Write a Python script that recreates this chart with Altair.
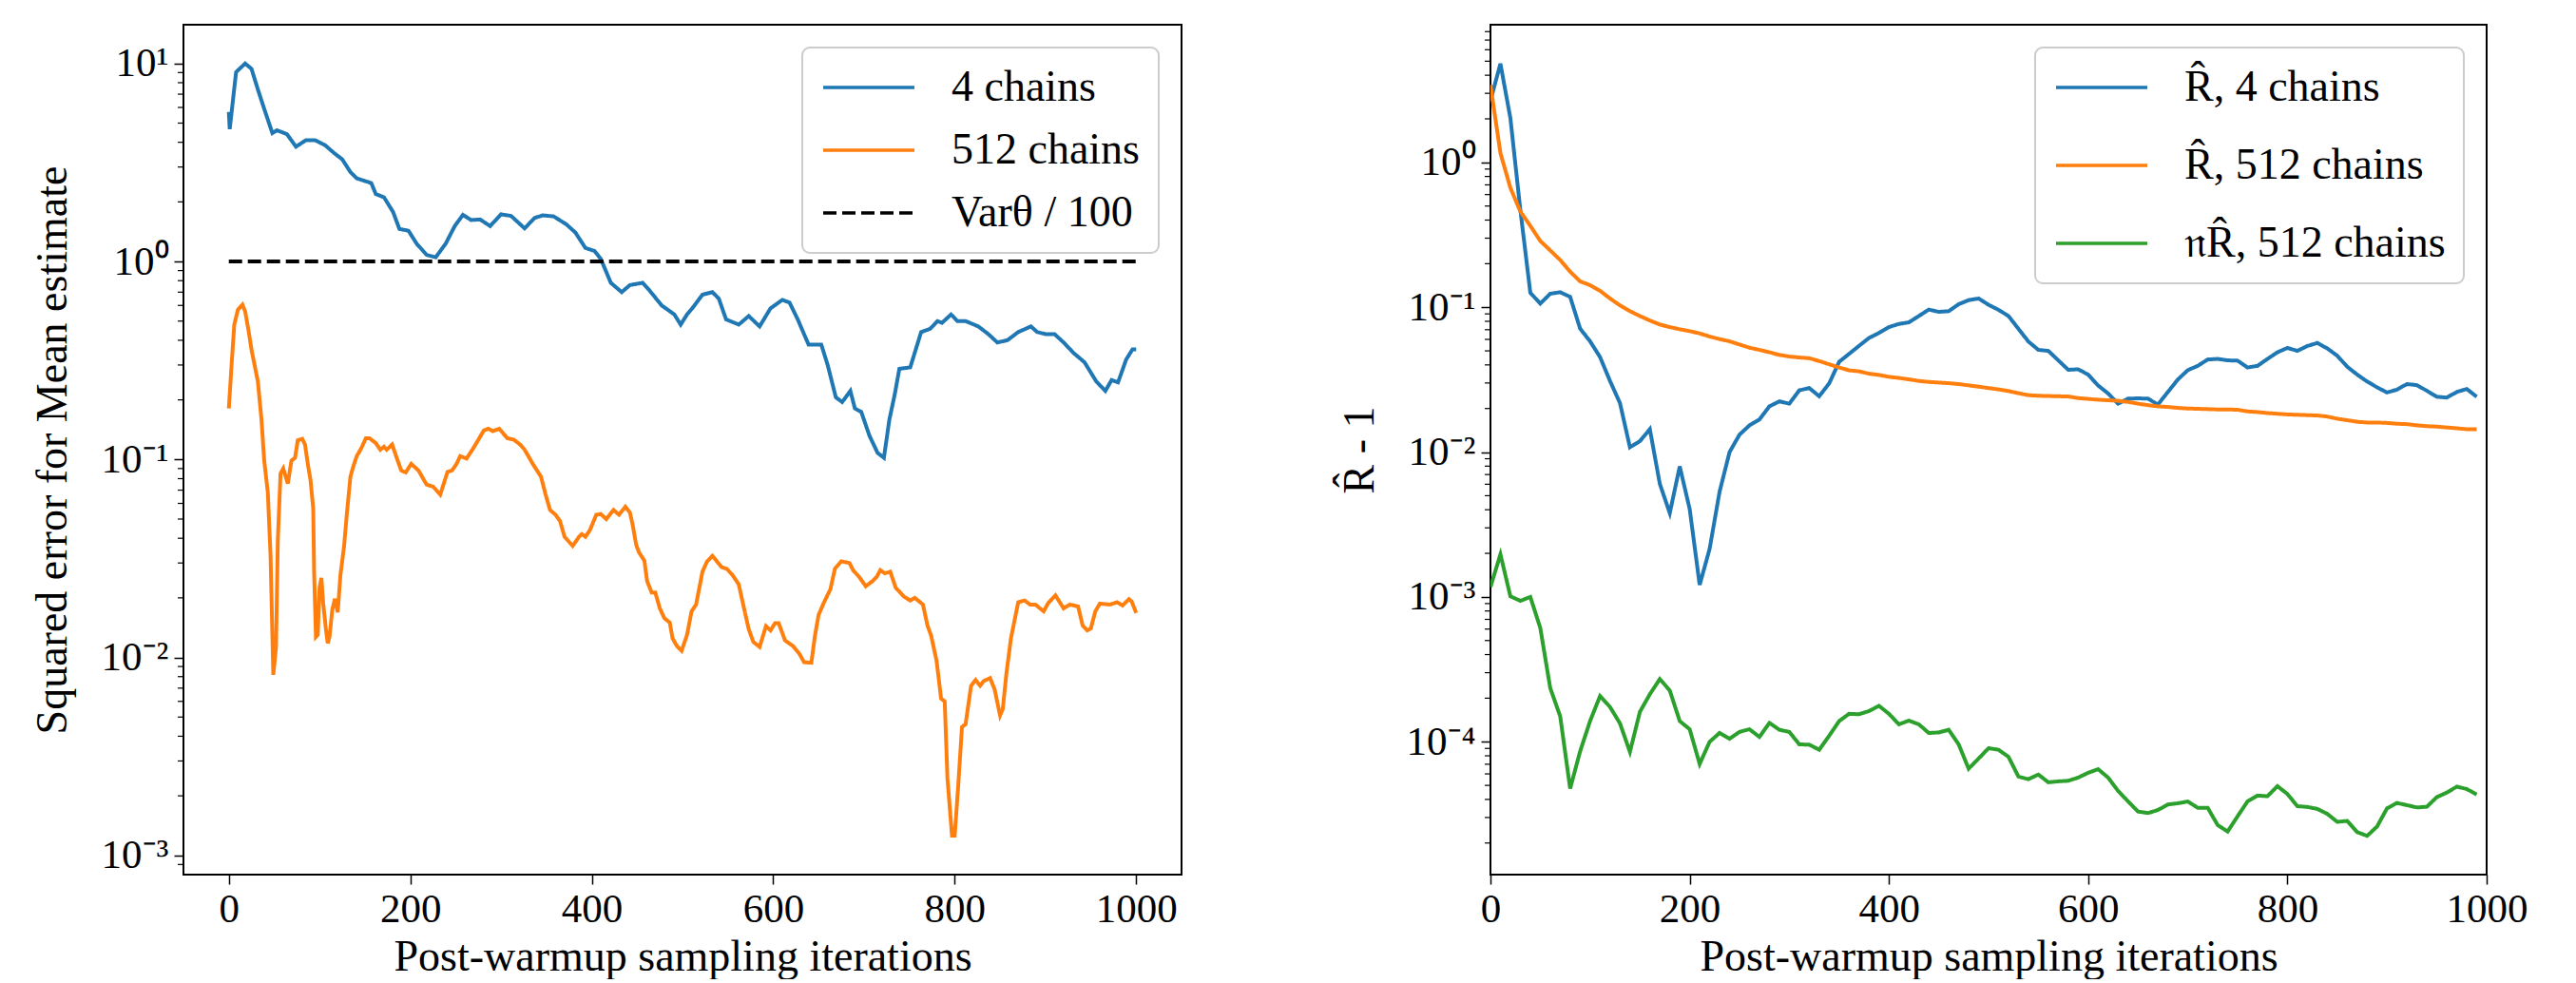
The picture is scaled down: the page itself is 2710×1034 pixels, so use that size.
import altair as alt
import pandas as pd

FONT = "Liberation Serif"

# ---------------- Left panel data ----------------
L_BLUE_IT = [0, 1, 8, 18, 25, 32, 39, 48, 53, 64, 74, 85, 95, 106, 116, 125, 134, 141, 157, 162,
             171, 181, 188, 198, 207, 218, 228, 239, 249, 258, 267, 277, 288, 300, 311, 326, 337,
             346, 358, 372, 382, 393, 403, 410, 421, 433, 442, 456, 463, 477, 491, 498, 505, 512,
             522, 533, 540, 548, 562, 573, 585, 597, 610, 618, 627, 639, 653, 660, 669, 676, 685,
             690, 697, 706, 715, 722, 728, 734, 739, 751, 763, 773, 781, 786, 796, 803, 812, 826,
             837, 847, 858, 870, 884, 891, 900, 910, 920, 931, 943, 956, 966, 973, 980, 989, 996, 1000]
L_BLUE_VAL = [5.7, 4.66, 9.05, 10.0, 9.4, 7.4, 5.9, 4.45, 4.6, 4.4, 3.8, 4.1, 4.1, 3.87, 3.53, 3.28,
              2.83, 2.63, 2.49, 2.19, 2.11, 1.78, 1.46, 1.43, 1.23, 1.08, 1.05, 1.23, 1.51, 1.72,
              1.62, 1.63, 1.51, 1.73, 1.70, 1.47, 1.66, 1.71, 1.69, 1.54, 1.40, 1.17, 1.13, 1.03,
              0.78, 0.70, 0.76, 0.78, 0.72, 0.60, 0.54, 0.48, 0.54, 0.59, 0.68, 0.70, 0.65, 0.51,
              0.48, 0.53, 0.47, 0.58, 0.64, 0.62, 0.51, 0.38, 0.38, 0.30, 0.206, 0.195, 0.222,
              0.181, 0.174, 0.132, 0.108, 0.102, 0.159, 0.214, 0.287, 0.292, 0.44, 0.457, 0.50,
              0.49, 0.54, 0.50, 0.50, 0.47, 0.43, 0.39, 0.40, 0.44, 0.47, 0.44, 0.43, 0.43, 0.39,
              0.345, 0.31, 0.248, 0.222, 0.252, 0.245, 0.32, 0.36, 0.36]

L_ORANGE_IT = [0, 3, 6, 10, 15, 18, 22, 25, 32, 36, 39, 43, 46, 49, 52, 54, 57, 60, 65, 69, 73, 76,
               81, 84, 87, 90, 93, 94, 96, 98, 100, 102, 104, 107, 109, 111, 114, 117, 120, 123,
               127, 130, 134, 137, 141, 146, 151, 155, 162, 167, 171, 174, 180, 185, 190, 195, 201,
               209, 218, 225, 233, 241, 246, 251, 255, 262, 270, 281, 286, 291, 298, 307, 314, 321,
               326, 335, 344, 349, 354, 360, 365, 370, 379, 386, 389, 393, 398, 405, 410, 416, 424,
               430, 437, 442, 445, 449, 452, 458, 461, 466, 470, 475, 480, 486, 489, 494, 499, 505,
               510, 515, 522, 527, 533, 543, 549, 555, 562, 567, 573, 578, 585, 592, 597, 602, 606,
               613, 622, 629, 634, 642, 646, 650, 656, 663, 668, 675, 684, 688, 695, 702, 709, 714,
               718, 723, 729, 735, 744, 751, 756, 765, 770, 774, 780, 785, 789, 792, 797, 800, 804,
               808, 812, 818, 823, 828, 832, 839, 844, 850, 853, 857, 862, 870, 877, 883, 889, 898,
               903, 911, 920, 927, 936, 941, 946, 950, 955, 960, 971, 979, 985, 992, 995, 1000]
L_ORANGE_VAL = [0.181, 0.298, 0.48, 0.57, 0.605, 0.56, 0.44, 0.358, 0.248, 0.159, 0.0986, 0.068,
                0.0326, 0.00817, 0.0112, 0.039, 0.085, 0.090, 0.0755, 0.0986, 0.102, 0.125, 0.127,
                0.119, 0.095, 0.079, 0.0566, 0.0271, 0.0127, 0.013, 0.0225, 0.0252, 0.0188, 0.0139,
                0.0118, 0.0127, 0.0174, 0.0198, 0.0169, 0.0261, 0.0364, 0.0526, 0.0819, 0.0916,
                0.104, 0.114, 0.128, 0.128, 0.121, 0.112, 0.116, 0.112, 0.119, 0.102, 0.088, 0.086,
                0.095, 0.088, 0.0746, 0.073, 0.0664, 0.0865, 0.088, 0.095, 0.104, 0.101, 0.115,
                0.140, 0.143, 0.139, 0.143, 0.128, 0.126, 0.119, 0.112, 0.095, 0.0819, 0.0668,
                0.0556, 0.0526, 0.0489, 0.0407, 0.0366, 0.0407, 0.042, 0.0407, 0.044, 0.0526,
                0.053, 0.05, 0.0556, 0.0526, 0.0577, 0.054, 0.047, 0.037, 0.034, 0.0308, 0.0243,
                0.0213, 0.0213, 0.0177, 0.0158, 0.015, 0.0125, 0.0114, 0.0108, 0.013, 0.0171,
                0.0185, 0.0271, 0.0305, 0.0326, 0.0286, 0.028, 0.0261, 0.0234, 0.0184, 0.0139,
                0.0120, 0.0113, 0.0144, 0.0137, 0.0149, 0.0149, 0.0122, 0.0114, 0.0104, 0.00946,
                0.0094, 0.0129, 0.0164, 0.019, 0.0221, 0.0281, 0.0306, 0.030, 0.0276, 0.0254,
                0.0229, 0.0242, 0.0255, 0.0276, 0.0266, 0.0271, 0.0225, 0.0203, 0.0194, 0.020,
                0.0185, 0.0145, 0.0129, 0.00964, 0.0062, 0.006, 0.00246, 0.00126, 0.00126, 0.00229,
                0.00445, 0.0046, 0.00718, 0.0077, 0.0072, 0.0076, 0.00787, 0.0069, 0.0051, 0.0055,
                0.0083, 0.0125, 0.019, 0.0194, 0.0185, 0.0185, 0.0171, 0.0188, 0.0206, 0.0177,
                0.0185, 0.0181, 0.0145, 0.0137, 0.014, 0.0171, 0.0187, 0.0185, 0.019, 0.0183,
                0.0197, 0.0192, 0.0168]

VAR_IT = [0, 1000]
VAR_VAL = [1.0, 1.0]

LEFT_SERIES = ["4 chains", "512 chains", "Varθ / 100"]
LEFT_COLORS = ["#1f77b4", "#ff7f0e", "#000000"]
LEFT_MAJOR = [0.001, 0.01, 0.1, 1, 10]
LEFT_MAJOR_TEXT = ["10⁻³", "10⁻²", "10⁻¹", "10⁰", "10¹"]
LEFT_MINOR = [0.0009, 0.002, 0.003, 0.004, 0.005, 0.006, 0.007, 0.008, 0.009,
              0.02, 0.03, 0.04, 0.05, 0.06, 0.07, 0.08, 0.09,
              0.2, 0.3, 0.4, 0.5, 0.6, 0.7, 0.8, 0.9,
              2, 3, 4, 5, 6, 7, 8, 9]

# ---------------- Right panel data ----------------
R_IT = list(range(0, 1000, 10))
R_BLUE = [2.67, 4.81, 2.02, 0.47, 0.126, 0.106, 0.124, 0.127, 0.118, 0.0712,
          0.0582, 0.0453, 0.031, 0.0218, 0.0108, 0.0119, 0.0144, 0.00604, 0.00379, 0.00797,
          0.00404, 0.00121, 0.00215, 0.00533, 0.01, 0.0132, 0.0153, 0.0168, 0.0207, 0.0224,
          0.0216, 0.0267, 0.0277, 0.0243, 0.0298, 0.042, 0.0477, 0.0542, 0.0614, 0.0665,
          0.073, 0.0767, 0.0787, 0.087, 0.0964, 0.093, 0.094, 0.105, 0.112, 0.115,
          0.104, 0.096, 0.087, 0.071, 0.058, 0.0508, 0.05, 0.043, 0.037, 0.0373,
          0.0343, 0.0288, 0.0254, 0.0216, 0.0234, 0.0235, 0.0234, 0.0213, 0.026, 0.0317,
          0.0368, 0.0394, 0.0436, 0.044, 0.043, 0.0428, 0.0384, 0.0394, 0.044, 0.0489,
          0.0524, 0.05, 0.054, 0.0567, 0.052, 0.0463, 0.0389, 0.0343, 0.0307, 0.028,
          0.0258, 0.027, 0.0295, 0.029, 0.0265, 0.0241, 0.0238, 0.026, 0.0273, 0.0241]
R_ORANGE = [3.43, 1.16, 0.668, 0.458, 0.365, 0.287, 0.247, 0.212, 0.176, 0.151,
            0.142, 0.130, 0.115, 0.103, 0.094, 0.087, 0.081, 0.076, 0.073, 0.0705,
            0.0684, 0.066, 0.0628, 0.0603, 0.0582, 0.0553, 0.0526, 0.0508, 0.0489, 0.0469,
            0.0457, 0.045, 0.0445, 0.0425, 0.0404, 0.0384, 0.0367, 0.0361, 0.0348, 0.0341,
            0.0331, 0.0325, 0.0318, 0.031, 0.0305, 0.0302, 0.0299, 0.0295, 0.0289, 0.0283,
            0.0277, 0.0271, 0.0264, 0.0255, 0.0247, 0.0245, 0.0244, 0.0243, 0.0242, 0.0236,
            0.0233, 0.023, 0.0228, 0.0226, 0.0222, 0.0216, 0.0211, 0.0207, 0.0205, 0.0202,
            0.02, 0.0199, 0.0198, 0.0197, 0.0197, 0.0196, 0.0191, 0.0189, 0.0186, 0.0184,
            0.0182, 0.0181, 0.018, 0.0179, 0.0176, 0.017, 0.0166, 0.0162, 0.016, 0.016,
            0.0159, 0.0157, 0.0156, 0.0153, 0.0151, 0.015, 0.0148, 0.0146, 0.0144, 0.0144]
R_GREEN = [0.00117, 0.00197, 0.00101, 0.00094, 0.001, 0.000612, 0.000235, 0.000150, 0.0000475, 0.0000859,
           0.000139, 0.000207, 0.000174, 0.000134, 0.0000851, 0.000161, 0.000213, 0.000271, 0.000226, 0.000139,
           0.000122, 0.0000703, 0.0001, 0.000115, 0.000105, 0.000117, 0.000122, 0.000108, 0.000135, 0.000121,
           0.000117, 0.000096, 0.0000955, 0.0000881, 0.00011, 0.000139, 0.000156, 0.000155, 0.000163, 0.000177,
           0.000156, 0.000132, 0.00014, 0.000132, 0.000115, 0.000116, 0.000121, 0.000096, 0.0000652, 0.0000766,
           0.0000903, 0.0000881, 0.0000787, 0.0000575, 0.0000552, 0.0000594, 0.0000525, 0.0000533, 0.0000538, 0.0000566,
           0.0000611, 0.0000647, 0.0000566, 0.0000458, 0.0000388, 0.000033, 0.0000322, 0.0000338, 0.0000369, 0.0000376,
           0.0000387, 0.000035, 0.000035, 0.0000266, 0.000024, 0.0000306, 0.0000388, 0.0000425, 0.0000421, 0.0000494,
           0.0000436, 0.0000359, 0.0000355, 0.0000344, 0.0000318, 0.000028, 0.0000284, 0.0000238, 0.0000224, 0.000026,
           0.0000347, 0.0000378, 0.0000365, 0.0000352, 0.0000356, 0.0000415, 0.0000446, 0.000049, 0.0000472, 0.0000432]

RIGHT_SERIES = ["R\u0302, 4 chains", "R\u0302, 512 chains", "\U0001D52BR\u0302, 512 chains"]
RIGHT_COLORS = ["#1f77b4", "#ff7f0e", "#2ca02c"]
RIGHT_MAJOR = [0.0001, 0.001, 0.01, 0.1, 1]
RIGHT_MAJOR_TEXT = ["10⁻⁴", "10⁻³", "10⁻²", "10⁻¹", "10⁰"]
RIGHT_MINOR = [0.00002, 0.00003, 0.00004, 0.00005, 0.00006, 0.00007, 0.00008, 0.00009,
               0.0002, 0.0003, 0.0004, 0.0005, 0.0006, 0.0007, 0.0008, 0.0009,
               0.002, 0.003, 0.004, 0.005, 0.006, 0.007, 0.008, 0.009,
               0.02, 0.03, 0.04, 0.05, 0.06, 0.07, 0.08, 0.09,
               0.2, 0.3, 0.4, 0.5, 0.6, 0.7, 0.8, 0.9,
               2, 3, 4, 5, 6, 7, 8]

X_TICKS = [0, 200, 400, 600, 800, 1000]
X_TITLE = "Post-warmup sampling iterations"


def label_expr(vals, texts):
    parts = []
    for v, t in zip(vals[:-1], texts[:-1]):
        parts.append(f"datum.value < {v * 3} ? '{t}' : ")
    return "".join(parts) + f"'{texts[-1]}'"


def x_axis():
    return alt.Axis(values=X_TICKS, title=X_TITLE, tickSize=10, tickWidth=1.5, tickColor="black",
                    labelPadding=5, labelFontSize=43, titleFontSize=46, titlePadding=6,
                    grid=False, domain=False, labelFlush=False, labelOverlap=False,
                    labelColor="black", titleColor="black", titleFontWeight="normal", format="d")


def y_axis(title, vals, texts):
    return alt.Axis(values=vals, labelExpr=label_expr(vals, texts), title=title,
                    tickSize=10, tickWidth=1.5, tickColor="black", labelPadding=6,
                    labelFontSize=43, titleFontSize=46, titlePadding=14,
                    minExtent=100, maxExtent=100, grid=False, domain=False,
                    labelFlush=False, labelOverlap=False, labelColor="black",
                    titleColor="black", titleFontWeight="normal")


def legend(row_padding):
    return alt.Legend(title=None, orient="top-right", offset=24, symbolType="M -2.4 0 L 2.4 0",
                      symbolSize=1600, symbolStrokeWidth=3.5, symbolOffset=28, labelOffset=64,
                      labelFontSize=46, labelFont=FONT, labelColor="black", labelLimit=1000,
                      rowPadding=row_padding, padding=19, strokeColor="#cccccc",
                      fillColor="white", cornerRadius=8)


def panel(df, series, colors, dashes, xdom, ydom, ytitle, major, major_text, minor, row_padding, width):
    xs = alt.Scale(domain=xdom, nice=False, zero=False)
    ys = alt.Scale(type="log", domain=ydom, nice=False)
    yax = y_axis(ytitle, major, major_text)
    lines = alt.Chart(df).mark_line(strokeWidth=4, clip=True).encode(
        x=alt.X("it:Q", scale=xs, axis=x_axis()),
        y=alt.Y("val:Q", scale=ys, axis=yax),
        color=alt.Color("series:N", scale=alt.Scale(domain=series, range=colors), legend=legend(row_padding)),
        strokeDash=alt.StrokeDash("series:N", scale=alt.Scale(domain=series, range=dashes), legend=legend(row_padding)),
    )
    minor_df = pd.DataFrame({"val": minor})
    minor_ticks = alt.Chart(minor_df).mark_rule(color="black", strokeWidth=1.2).encode(
        y=alt.Y("val:Q", scale=ys, axis=yax),
        x=alt.value(0), x2=alt.value(-6),
    )
    return alt.layer(lines, minor_ticks).properties(width=width, height=894)


left_df = pd.concat([
    pd.DataFrame({"it": L_BLUE_IT, "val": L_BLUE_VAL, "series": LEFT_SERIES[0]}),
    pd.DataFrame({"it": L_ORANGE_IT, "val": L_ORANGE_VAL, "series": LEFT_SERIES[1]}),
    pd.DataFrame({"it": VAR_IT, "val": VAR_VAL, "series": LEFT_SERIES[2]}),
])
right_df = pd.concat([
    pd.DataFrame({"it": R_IT, "val": R_BLUE, "series": RIGHT_SERIES[0]}),
    pd.DataFrame({"it": R_IT, "val": R_ORANGE, "series": RIGHT_SERIES[1]}),
    pd.DataFrame({"it": R_IT, "val": R_GREEN, "series": RIGHT_SERIES[2]}),
])

left = panel(left_df, LEFT_SERIES, LEFT_COLORS, [[1, 0], [1, 0], [14, 6]], [-50, 1050], [8.0e-4, 15.7],
             "Squared error for Mean estimate", LEFT_MAJOR, LEFT_MAJOR_TEXT, LEFT_MINOR, 20, 1050)
right = panel(right_df, RIGHT_SERIES, RIGHT_COLORS, [[1, 0], [1, 0], [1, 0]], [0, 1000], [1.21e-5, 8.93],
              "R\u0302 - 1", RIGHT_MAJOR, RIGHT_MAJOR_TEXT, RIGHT_MINOR, 36, 1048)

chart = alt.hconcat(left, right, spacing=162).resolve_scale(
    x="independent", y="independent", color="independent", strokeDash="independent"
).resolve_legend(color="independent", strokeDash="independent").properties(
    padding={"left": 23, "top": 17, "right": 0, "bottom": 0}
).configure(font=FONT).configure_view(stroke="black", strokeWidth=2).configure_legend(strokeWidth=2)

chart.save("out.html", embed_options={"renderer": "svg", "actions": False})
